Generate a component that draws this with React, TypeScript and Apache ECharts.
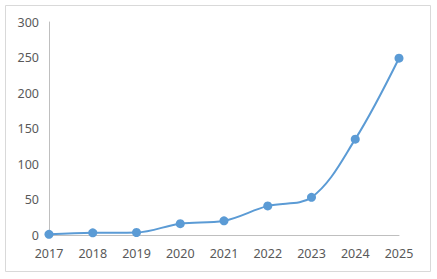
import React, { useEffect, useRef } from "react";
import * as echarts from "echarts";

const years = ["2017", "2018", "2019", "2020", "2021", "2022", "2023", "2024", "2025"];
const values = [1, 3, 3.5, 16, 20, 41, 53, 135, 249];
const yTicks = [0, 50, 100, 150, 200, 250, 300];

export default function App() {
  const ref = useRef<HTMLDivElement>(null);
  useEffect(() => {
    if (!ref.current) return;
    const chart = echarts.init(ref.current, undefined, { renderer: "svg" });
    chart.setOption({
      animation: false,
      backgroundColor: "#ffffff",
      graphic: [
        {
          type: "rect",
          shape: { x: 5.5, y: 5.5, width: 425, height: 266 },
          style: { fill: "none", stroke: "#D9D9D9", lineWidth: 1 },
          silent: true,
        },
      ],
      grid: { left: 49, right: 38, top: 22, bottom: 44, containLabel: false },
      xAxis: {
        type: "category",
        data: years,
        boundaryGap: false,
        axisLine: { lineStyle: { color: "#BFBFBF", width: 1 } },
        axisTick: { show: false },
        axisLabel: { color: "#595959", fontSize: 12.5, fontFamily: "Noto Sans", margin: 12 },
        splitLine: { show: false },
      },
      yAxis: {
        type: "value",
        min: yTicks[0],
        max: yTicks[yTicks.length - 1],
        interval: 50,
        axisLine: { show: true, lineStyle: { color: "#BFBFBF", width: 1 } },
        axisTick: { show: false },
        axisLabel: { color: "#595959", fontSize: 12.5, fontFamily: "Noto Sans", margin: 10 },
        splitLine: { show: false },
      },
      series: [
        {
          type: "line",
          data: values,
          smooth: 0.35,
          symbol: "circle",
          symbolSize: 9,
          lineStyle: { color: "#5B9BD5", width: 2 },
          itemStyle: { color: "#5B9BD5" },
        },
      ],
    });
    return () => chart.dispose();
  }, []);
  return (
    <div
      ref={ref}
      style={{ position: "fixed", left: 0, top: 0, width: 437, height: 279 }}
    />
  );
}
